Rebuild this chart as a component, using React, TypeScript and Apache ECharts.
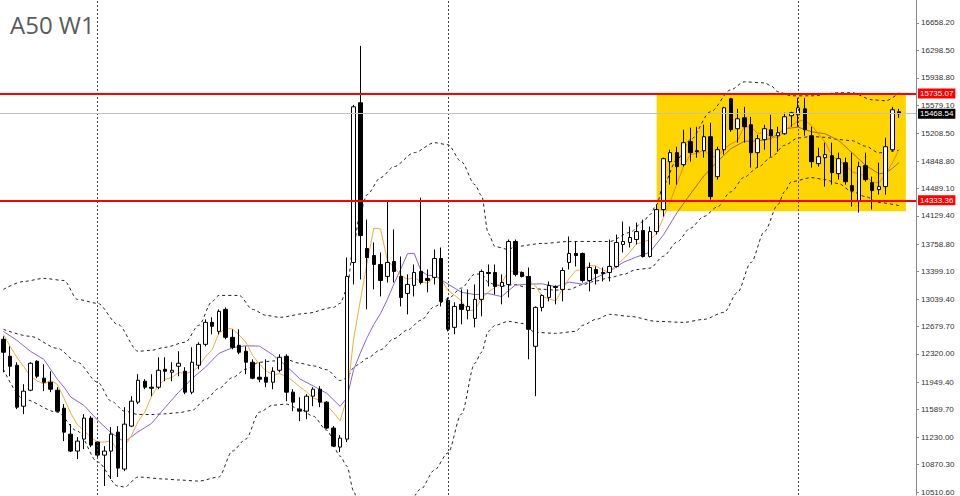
import { useEffect, useRef } from "react";
import * as echarts from "echarts";

const chartTitle = "A50 W1";

// 134 weekly candles + 2 empty slots on the right
const categories: string[] = Array.from({ length: 136 }, (_, i) => String(i));

// [open, close, low, high]
const candles: number[][] = [
  [12512, 12342, 12080, 12551], [12289, 12159, 12028, 12420], [12172, 11622, 11596, 12211], [11635, 11832, 11531, 11923],
  [11845, 12198, 11832, 12211], [12224, 12028, 12002, 12237], [12002, 11949, 11832, 12185], [11949, 11858, 11819, 12093],
  [11845, 11570, 11557, 11884], [11609, 11295, 11178, 11662], [11269, 11047, 11034, 11400], [11047, 11178, 10942, 11230],
  [11204, 11479, 11073, 11531], [11479, 11125, 11099, 11505], [11165, 10994, 10968, 11178], [10994, 11047, 10589, 11112],
  [11047, 11269, 10681, 11361], [11295, 10824, 10707, 11374], [10811, 11400, 10785, 11622], [11374, 11701, 11361, 11766],
  [11688, 11975, 11662, 12054], [11962, 11884, 11858, 11989], [11884, 11871, 11766, 12054], [11884, 12106, 11858, 12276],
  [12119, 12093, 11962, 12276], [12080, 12106, 11962, 12211], [12159, 12198, 12028, 12355], [12093, 11819, 11792, 12146],
  [11819, 12211, 11792, 12407], [12172, 12446, 12119, 12473], [12446, 12734, 12420, 12773], [12734, 12682, 12577, 12800],
  [12616, 12878, 12577, 12904], [12904, 12538, 12512, 12930], [12538, 12407, 12381, 12643], [12433, 12342, 12316, 12643],
  [12355, 12211, 12054, 12420], [12211, 12002, 11989, 12250], [12015, 11989, 11949, 12211], [12015, 11949, 11884, 12250],
  [11949, 12093, 11858, 12146], [12106, 12276, 12080, 12316], [12289, 11819, 11701, 12316], [11819, 11688, 11570, 11858],
  [11596, 11570, 11439, 11753], [11570, 11766, 11465, 11792], [11766, 11858, 11635, 11884], [11858, 11688, 11622, 11897],
  [11688, 11348, 11335, 11701], [11348, 11112, 11099, 11374], [11099, 11217, 11034, 11256], [11204, 13336, 11165, 13584],
  [13519, 15559, 13231, 15585], [15612, 13872, 13297, 16357], [13702, 13584, 12904, 14081], [13610, 13493, 13166, 13781],
  [13493, 13283, 13074, 13650], [13336, 13519, 13257, 14317], [13532, 13401, 13257, 13951], [13336, 13061, 12943, 13597],
  [13113, 13231, 12839, 13362], [13218, 13388, 13074, 13493], [13401, 13257, 13231, 14369], [13310, 13283, 13127, 13427],
  [13323, 13571, 13231, 13689], [13571, 13009, 12943, 13715], [13022, 12643, 12616, 13061], [12669, 12943, 12577, 12996],
  [12970, 12904, 12708, 13166], [12891, 12943, 12773, 13166], [12786, 13035, 12669, 13231], [13035, 13401, 12813, 13427],
  [13388, 13375, 13205, 13493], [13388, 13205, 13100, 13493], [13205, 13257, 12970, 13362], [13231, 13794, 13061, 13820],
  [13794, 13362, 13336, 13820], [13388, 13336, 13323, 13401], [13336, 12643, 12250, 13453], [12420, 12930, 11766, 12943],
  [12930, 13087, 12878, 13100], [13061, 13218, 13009, 13270], [13205, 13192, 12970, 13218], [13166, 13414, 13009, 13453],
  [13519, 13637, 13427, 13859], [13637, 13610, 13467, 13794], [13637, 13283, 13257, 13650], [13283, 13453, 13140, 13519],
  [13427, 13375, 13231, 13467], [13388, 13375, 13270, 13453], [13388, 13467, 13270, 13820], [13467, 13781, 13453, 13885],
  [13754, 13794, 13650, 14055], [13781, 13846, 13715, 13990], [13820, 13924, 13754, 14042], [13937, 13597, 13584, 14081],
  [13597, 13924, 13584, 13990], [13924, 14212, 13885, 14278], [14212, 14879, 14121, 14892], [14840, 14958, 14539, 14997],
  [14958, 14775, 14539, 15036], [14801, 15089, 14775, 15259], [15102, 14958, 14840, 15285], [14984, 14971, 14892, 15298],
  [14984, 15167, 14892, 15324], [15167, 14382, 14343, 15350], [14644, 14997, 14605, 15036], [14997, 15546, 14932, 15559],
  [15664, 15259, 15232, 15677], [15272, 15402, 15089, 15533], [15415, 15298, 15089, 15559], [15324, 14958, 14762, 15429],
  [14958, 15141, 14762, 15193], [15128, 15272, 14997, 15324], [15259, 15180, 14905, 15455], [15180, 15219, 14971, 15298],
  [15206, 15429, 15193, 15481], [15442, 15481, 15298, 15494], [15455, 15546, 15298, 15677], [15533, 15259, 15180, 15677],
  [15180, 14840, 14762, 15298], [14814, 14905, 14775, 15023], [14892, 14932, 14513, 15089], [14919, 14696, 14539, 15089],
  [14683, 14879, 14605, 14958], [14827, 14578, 14539, 14892], [14526, 14461, 14251, 14958], [14317, 14775, 14173, 14840],
  [14788, 14605, 14578, 14958], [14565, 14461, 14212, 14644], [14474, 14513, 14408, 14827], [14513, 15036, 14408, 15154],
  [14997, 15520, 14971, 15559], [15494, 15468.54, 15415, 15533],
];

// Orange moving average (every week)
const maFast: number[] = [
  12577, 12420, 12276, 12159, 12030, 11968, 11926, 11973, 11921, 11740,
  11544, 11390, 11314, 11225, 11165, 11165, 11183, 11052, 11107, 11248,
  11434, 11557, 11766, 11908, 11986, 12012, 12075, 12064, 12085, 12156,
  12282, 12378, 12590, 12656, 12648, 12569, 12475, 12300, 12190, 12098,
  12049, 12062, 12025, 11965, 11889, 11824, 11740, 11714, 11646, 11554,
  11444, 11740, 12514, 13019, 13514, 13969, 13958, 13550, 13456, 13352,
  13299, 13320, 13268, 13244, 13346, 13302, 13153, 13090, 13014, 12888,
  12894, 13045, 13132, 13192, 13255, 13406, 13399, 13391, 13278, 13213,
  13072, 13043, 13014, 13168, 13310, 13414, 13427, 13480, 13472, 13420,
  13391, 13490, 13558, 13652, 13762, 13788, 13817, 13901, 14108, 14314,
  14550, 14782, 14932, 14950, 14992, 14913, 14895, 15013, 15070, 15117,
  15300, 15293, 15212, 15214, 15170, 15154, 15248, 15316, 15371, 15387,
  15311, 15206, 15096, 14926, 14850, 14798, 14709, 14678, 14659, 14576,
  14563, 14678, 14827, 15000,
];

// Purple moving average, [week index, value]
const maSlow: number[][] = [
  [0, 12616], [2, 12499], [4, 12355], [6, 12250], [8, 11989], [9, 11885], [10, 11756], [12, 11643], [14, 11452],
  [16, 11286], [18, 11166], [20, 11299], [22, 11409], [24, 11617], [26, 11816], [28, 11996], [30, 12147], [32, 12327],
  [34, 12402], [36, 12427], [38, 12423], [40, 12309], [42, 12163], [44, 11994], [46, 11901], [48, 11805], [50, 11634],
  [51, 11740], [52, 12114], [53, 12333], [54, 12534], [55, 12707], [56, 12849], [57, 13032], [58, 13238], [59, 13433],
  [60, 13634], [61, 13639], [62, 13409], [63, 13350], [64, 13349], [66, 13236], [68, 13129], [70, 13098], [72, 13111],
  [74, 13072], [75, 13150], [76, 13222], [78, 13235], [80, 13239], [82, 13202], [84, 13261], [86, 13235], [88, 13320],
  [90, 13402], [92, 13519], [94, 13591], [96, 13654], [98, 13880], [100, 14169], [102, 14416], [104, 14653], [106, 14839],
  [108, 15010], [110, 15107], [112, 15112], [114, 15144], [116, 15270], [118, 15293], [120, 15232], [122, 15206],
  [124, 15119], [126, 14958], [128, 14793], [130, 14681], [131, 14694], [132, 14752], [133, 14830],
];

// Bollinger bands, [week index, value]
const bandMid: number[][] = [
  [0, 12643], [4, 12551], [8, 12394], [11, 12211], [14, 11949], [16, 11701], [18, 11570], [20, 11527], [22, 11526],
  [24, 11535], [26, 11550], [28, 11580], [30, 11723], [32, 11868], [34, 12009], [36, 12121], [38, 12210], [40, 12228],
  [42, 12245], [44, 12198], [46, 12164], [48, 12114], [50, 11972], [51, 12004], [52, 12138], [53, 12204], [54, 12263],
  [56, 12374], [58, 12521], [60, 12633], [62, 12762], [64, 12941], [66, 13043], [68, 13183], [70, 13366], [71, 13368],
  [72, 13260], [73, 13226], [74, 13210], [76, 13229], [78, 13181], [80, 13168], [82, 13157], [84, 13166], [86, 13229],
  [88, 13277], [90, 13320], [92, 13361], [94, 13426], [96, 13444], [98, 13600], [100, 13786], [102, 13968], [104, 14122],
  [106, 14246], [108, 14445], [110, 14637], [112, 14764], [114, 14898], [116, 15055], [118, 15151], [120, 15170],
  [122, 15159], [124, 15130], [126, 15115], [128, 15043], [130, 14956], [132, 14979], [133, 14989],
];
const bandUpper: number[][] = [
  [0, 13166], [3, 13270], [6, 13310], [9, 13283], [11, 13035], [14, 12983], [17, 12708], [20, 12355], [22, 12368],
  [24, 12407], [27, 12473], [29, 12695], [31, 13009], [32, 13087], [35, 13087], [37, 12904], [39, 12826], [41, 12800],
  [45, 12852], [49, 12930], [50, 12983], [51, 13166], [52, 13754], [53, 14186], [54, 14408], [56, 14631], [58, 14775],
  [61, 14958], [64, 15089], [66, 15062], [68, 14840], [70, 14539], [71, 14395], [72, 13898], [73, 13728], [75, 13689],
  [76, 13728], [80, 13768], [84, 13794], [88, 13794], [90, 13794], [93, 13911], [95, 14055], [96, 14147], [97, 14278],
  [98, 14539], [100, 14866], [102, 15128], [105, 15494], [108, 15782], [110, 15886], [113, 15873], [114, 15834],
  [115, 15756], [117, 15703], [120, 15703], [124, 15743], [126, 15743], [129, 15651], [131, 15638], [133, 15743],
];
const bandLower: number[][] = [
  [0, 12119], [3, 11727], [8, 11557], [11, 11308], [14, 10903], [17, 10589], [18, 10576], [20, 10707], [24, 10681],
  [26, 10668], [29, 10654], [32, 10707], [34, 11047], [36, 11204], [38, 11557], [40, 11648], [42, 11662], [44, 11596],
  [46, 11505], [48, 11322], [50, 10981], [51, 10851], [52, 10524], [53, 10223], [54, 10118], [56, 10118], [58, 10262],
  [60, 10341], [62, 10550], [64, 10798], [66, 11021], [68, 11531], [70, 12198], [71, 12342], [72, 12616], [73, 12695],
  [75, 12747], [77, 12721], [79, 12603], [82, 12590], [85, 12616], [86, 12695], [88, 12773], [90, 12839], [93, 12813],
  [97, 12747], [101, 12734], [104, 12773], [107, 12865], [109, 13127], [111, 13519], [113, 13924], [115, 14278],
  [116, 14448], [117, 14578], [120, 14631], [122, 14605], [124, 14552], [126, 14448], [128, 14382], [130, 14304],
  [133, 14264],
];

const yTicks: number[] = [
  16658.2, 16298.5, 15938.8, 15579.1, 15208.5, 14848.8, 14489.1, 14129.4, 13758.8,
  13399.1, 13039.4, 12679.7, 12320.0, 11949.4, 11589.7, 11230.0, 10870.3, 10510.6,
];
const yRange: number[] = [10471, 16959];
const levelLines: number[] = [15735.07, 14333.36];
const lastPrice = 15468.54;
const separatorWeeks: number[] = [14, 66, 118];
// zone: from week, to week, top price, bottom price
const zoneWeeks: number[] = [97, 134];
const zonePrices: number[] = [15735.07, 14190];
const fastSplit = 99;
const slowSplit = 100;

export default function App() {
  const ref = useRef<HTMLDivElement>(null);
  useEffect(() => {
    if (!ref.current) return;
    const chart = echarts.init(ref.current, null, { renderer: "svg" });
    const fastPairs = maFast.map((v, i) => [i, v]);
    const dashed = (data: number[][]) => ({
      type: "line",
      data,
      symbol: "none",
      smooth: 0.3,
      smoothMonotone: "x",
      silent: true,
      z: 3,
      lineStyle: { color: "#222", width: 1, type: [3, 3] },
    });
    const solid = (data: number[][], color: string) => ({
      type: "line",
      data,
      symbol: "none",
      silent: true,
      z: 3,
      lineStyle: { color, width: 1 },
    });
    const fmt = (v: number) => Number(v).toFixed(2);
    const tag = (bg: string) => ({
      show: true,
      position: "end",
      distance: 2,
      formatter: (p: any) => fmt(p.value),
      color: "#fff",
      backgroundColor: bg,
      padding: [1, 2, 0, 2],
      fontSize: 8,
      lineHeight: 9,
      fontFamily: "Liberation Sans, Arial, sans-serif",
    });
    chart.setOption({
      animation: false,
      grid: { left: 0, right: 44, top: 0, bottom: 0 },
      graphic: [
        {
          type: "text",
          left: 10,
          top: 12,
          style: {
            text: chartTitle,
            fontSize: 24,
            fill: "#5a5a5a",
            fontFamily: "Open Sans, sans-serif",
          },
        },
      ],
      xAxis: {
        type: "category",
        data: categories,
        boundaryGap: true,
        show: false,
      },
      yAxis: {
        type: "value",
        position: "right",
        min: yRange[0],
        max: yRange[1],
        splitLine: { show: false },
        axisLine: { show: true, lineStyle: { color: "#888", width: 1 } },
        axisTick: { show: true, length: 3, customValues: yTicks, lineStyle: { color: "#888" } },
        axisLabel: {
          customValues: yTicks,
          formatter: (v: number) => fmt(v),
          fontSize: 8,
          color: "#333",
          margin: 5,
          fontFamily: "Liberation Sans, Arial, sans-serif",
        },
      },
      series: [
        {
          type: "line",
          data: [],
          z: 1,
          silent: true,
          markArea: {
            silent: true,
            itemStyle: { color: "#FFD500", opacity: 1 },
            data: [
              [
                { xAxis: categories[zoneWeeks[0]], yAxis: zonePrices[0] },
                { xAxis: categories[zoneWeeks[1]], yAxis: zonePrices[1] },
              ],
            ],
          },
        },
        {
          type: "line",
          data: [],
          z: 2,
          silent: true,
          markLine: {
            silent: true,
            symbol: ["none", "none"],
            label: { show: false },
            lineStyle: { color: "#444", width: 1, type: [2, 2] },
            data: separatorWeeks.map((w) => ({ xAxis: categories[w] })),
          },
        },
        dashed(bandUpper),
        dashed(bandMid),
        dashed(bandLower),
        solid(maSlow.filter((p) => p[0] <= slowSplit), "#8A62D6"),
        solid(maSlow.filter((p) => p[0] >= slowSplit), "#A8683A"),
        solid(fastPairs.filter((p) => p[0] <= fastSplit), "#F5AA3C"),
        solid(fastPairs.filter((p) => p[0] >= fastSplit), "#E8862A"),
        {
          type: "candlestick",
          data: candles,
          barWidth: 4,
          z: 4,
          silent: true,
          itemStyle: {
            color: "#ffffff",
            color0: "#000000",
            borderColor: "#000000",
            borderColor0: "#000000",
            borderWidth: 1,
          },
        },
        {
          type: "line",
          data: [],
          z: 5,
          silent: true,
          markLine: {
            silent: true,
            symbol: ["none", "none"],
            data: [
              ...levelLines.map((v) => ({
                yAxis: v,
                lineStyle: { color: "#ff0000", width: 2, type: "solid" },
                label: tag("#ff0000"),
              })),
              {
                yAxis: lastPrice,
                lineStyle: { color: "#c0c0c0", width: 1, type: "solid" },
                label: tag("#000000"),
              },
            ],
          },
        },
      ],
    });
    return () => chart.dispose();
  }, []);
  return (
    <div
      ref={ref}
      style={{ position: "fixed", left: 0, top: 0, width: 960, height: 496, background: "#fff" }}
    />
  );
}
